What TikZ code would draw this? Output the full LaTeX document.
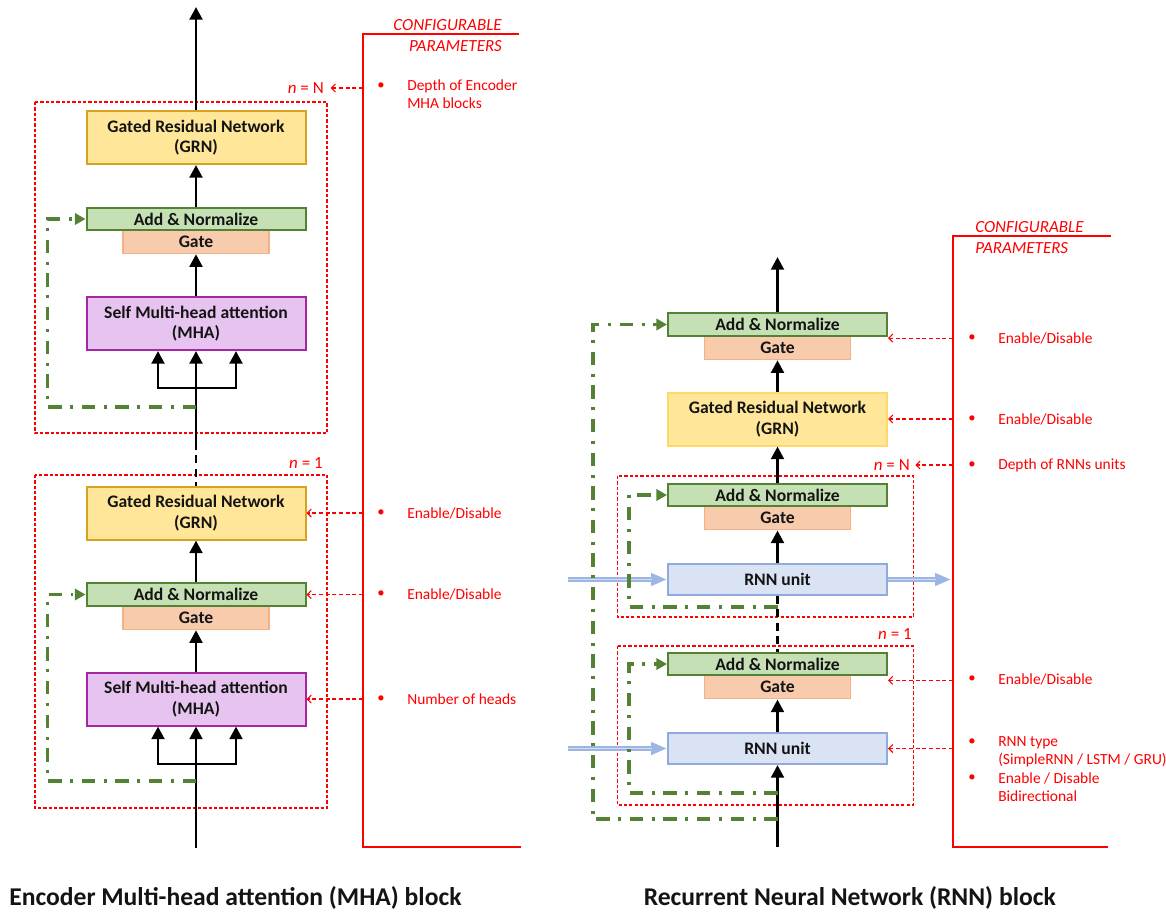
\documentclass[tikz,border=0pt]{standalone}
\usepackage{fontspec}
\setmainfont{Carlito}
\usetikzlibrary{arrows.meta,calc}

\definecolor{grnfill}{HTML}{FFE699}
\definecolor{grnedge}{HTML}{D9A21E}
\definecolor{grnedgeB}{HTML}{FFD966}
\definecolor{addfill}{HTML}{C5E0B4}
\definecolor{addedge}{HTML}{548235}
\definecolor{gatefill}{HTML}{F8CBAD}
\definecolor{gateedge}{HTML}{F4B183}
\definecolor{mhafill}{HTML}{E6C4EF}
\definecolor{mhaedge}{HTML}{A626A4}
\definecolor{rnnfill}{HTML}{DAE3F3}
\definecolor{rnnedge}{HTML}{8FAADC}
\definecolor{skipgreen}{HTML}{548235}
\definecolor{cfgred}{HTML}{FF0000}
\definecolor{flowblue}{HTML}{9DB5E4}
\definecolor{ink}{HTML}{141414}

\tikzset{
  box/.style={rectangle, inner sep=0pt, line width=1.5pt, align=center,
    font=\bfseries\fontsize{13.2}{15.5}\selectfont, text=ink},
  grnbox/.style={box, fill=grnfill, draw=grnedge, minimum width=164.25pt, minimum height=39.75pt},
  addbox/.style={box, fill=addfill, draw=addedge, minimum width=164.25pt, minimum height=16.9pt},
  gatebox/.style={box, fill=gatefill, draw=gateedge, line width=1.1pt, minimum width=109.5pt, minimum height=17.6pt},
  mhabox/.style={box, fill=mhafill, draw=mhaedge, minimum width=164.25pt, minimum height=39.75pt},
  rnnbox/.style={box, fill=rnnfill, draw=rnnedge, minimum width=164.25pt, minimum height=23.25pt},
  flow/.style={line width=2.2pt, -{Triangle[width=9.5pt,length=9.5pt]}},
  gapline/.style={line width=2.2pt, dash pattern=on 6pt off 4pt},
  skipline/.style={draw=skipgreen, line width=2.5pt, dash pattern=on 10pt off 6.5pt on 2.2pt off 6.5pt,
    -{Triangle[width=8.5pt,length=8pt]}},
  repeatbox/.style={draw=cfgred, line width=0.8pt, dash pattern=on 2.4pt off 1.6pt},
  cfgarrow/.style={draw=cfgred, line width=0.8pt, dash pattern=on 3pt off 2pt,
    -{Straight Barb[length=3pt,width=6pt]}},
  bracketline/.style={draw=cfgred, line width=1.1pt},
  cfgtext/.style={text=cfgred, font=\fontsize{11.6}{13.5}\selectfont, align=left, anchor=west, inner sep=0pt},
  dotmark/.style={text=cfgred, font=\fontsize{11}{13}\selectfont, inner sep=0pt},
  cfghead/.style={text=cfgred, font=\itshape\fontsize{12.75}{15}\selectfont, inner sep=0pt},
  depthlabel/.style={text=cfgred, font=\fontsize{12.75}{15}\selectfont, inner sep=0pt, anchor=east},
  titletext/.style={font=\bfseries\fontsize{19.2}{22}\selectfont, anchor=west, inner sep=0pt, text=ink},
  rnnflow/.style={draw=flowblue, line width=4pt, -{Triangle[width=9pt,length=12pt]},
    postaction={draw=white!55!flowblue, line width=1.3pt, -, shorten >=11pt}}
}

\begin{document}
\begin{tikzpicture}[x=0.75pt, y=-0.75pt]
\useasboundingbox (0,0) rectangle (1166,911);

% ---------------- Encoder MHA block ----------------
% repeated-block frames
\draw[repeatbox] (35,102) rectangle (327,433);
\draw[repeatbox] (35,475) rectangle (327,808);

% upper block (n = N)
\node[grnbox] (grnA) at (196,137.5) {Gated Residual Network\\(GRN)};
\node[gatebox] (gateA) at (196,241.75) {Gate};
\node[addbox] (addA) at (196,219) {Add \& Normalize};
\node[mhabox] (mhaA) at (196,323.5) {Self Multi-head attention\\(MHA)};

% lower block (n = 1)
\node[grnbox] (grnB) at (196,513) {Gated Residual Network\\(GRN)};
\node[gatebox] (gateB) at (196,617.75) {Gate};
\node[addbox] (addB) at (196,594.5) {Add \& Normalize};
\node[mhabox] (mhaB) at (196,699) {Self Multi-head attention\\(MHA)};

\coordinate (outA) at (196,7);
\coordinate (joinA) at (196,442);
\coordinate (forkA) at (196,388);
\coordinate (skipA) at (196,407);
\coordinate (inA) at (196,848);
\coordinate (forkB) at (196,764);
\coordinate (skipB) at (196,781);

% main data path
\draw[flow] (grnA.north) -- (outA);
\draw[flow] (addA.north) -- (grnA.south);
\draw[flow] (mhaA.north) -- (gateA.south);
\draw[flow] (joinA) -- (mhaA.south);
\draw[flow] (forkA) -| ($(mhaA.south)+(-38,0)$);
\draw[flow] (forkA) -| ($(mhaA.south)+(40,0)$);
\draw[gapline] (joinA) -- (grnB.north);
\draw[flow] (addB.north) -- (grnB.south);
\draw[flow] (mhaB.north) -- (gateB.south);
\draw[flow] (inA) -- (mhaB.south);
\draw[flow] (forkB) -| ($(mhaB.south)+(-38,0)$);
\draw[flow] (forkB) -| ($(mhaB.south)+(40,0)$);

% residual connections
\draw[skipline] (skipA) -| ($(addA.west)+(-38,0)$) -- (addA.west);
\draw[skipline] (skipB) -| ($(addB.west)+(-38,0)$) -- (addB.west);

% configurable parameters
\node[depthlabel] (nNA) at (324,88) {\textit{n} = N};
\node[depthlabel] (n1A) at (323,463) {\textit{n} = 1};
\coordinate (brAtop) at (363,34);
\coordinate (brAend) at (519,34);
\coordinate (brAbot) at (363,847);
\coordinate (brAbotend) at (521,847);
\draw[bracketline] (brAend) -- (brAtop) -- (brAbot) -- (brAbotend);
\node[cfghead, anchor=east] (cfgA1) at (502,25.5) {CONFIGURABLE};
\node[cfghead, anchor=east] (cfgA2) at (502,46) {PARAMETERS};

\coordinate (nNAtip) at ([xshift=5pt]nNA.east);
\draw[cfgarrow] (brAtop |- nNAtip) -- (nNAtip);
\draw[cfgarrow] (brAtop |- grnB.east) -- (grnB.east);
\draw[cfgarrow] (brAtop |- addB.east) -- (addB.east);
\draw[cfgarrow] (brAtop |- mhaB.east) -- (mhaB.east);

\node[dotmark] (dA1) at (381,86) {\textbullet};
\node[cfgtext] (pA1) at (407,94.5) {Depth of Encoder\\MHA blocks};
\node[dotmark] (dA2) at (381,513) {\textbullet};
\node[cfgtext] (pA2) at (407,513) {Enable/Disable};
\node[dotmark] (dA3) at (381,594.5) {\textbullet};
\node[cfgtext] (pA3) at (407,594.5) {Enable/Disable};
\node[dotmark] (dA4) at (381,699) {\textbullet};
\node[cfgtext] (pA4) at (407,699) {Number of heads};

\node[titletext] (titleA) at (9,898) {Encoder Multi-head attention (MHA) block};

% ---------------- RNN block ----------------
\draw[repeatbox] (617.5,476) rectangle (913.5,617);
\draw[repeatbox] (617.5,646) rectangle (913.5,805);

\node[gatebox] (gateT) at (777.5,347.75) {Gate};
\node[addbox] (addT) at (777.5,324.5) {Add \& Normalize};
\node[grnbox, draw=grnedgeB] (grnR) at (777.5,419) {Gated Residual Network\\(GRN)};
\node[gatebox] (gateN) at (777.5,518) {Gate};
\node[addbox] (addN) at (777.5,495) {Add \& Normalize};
\node[rnnbox] (rnnN) at (777.5,579.5) {RNN unit};
\node[gatebox] (gate1) at (777.5,687) {Gate};
\node[addbox] (add1) at (777.5,664) {Add \& Normalize};
\node[rnnbox] (rnn1) at (777.5,748.5) {RNN unit};

\coordinate (outB) at (777.5,257);
\coordinate (inB) at (777.5,847);
\coordinate (skipN) at (777.5,607);
\coordinate (skip1) at (777.5,793);
\coordinate (skipO) at (777.5,819);
\coordinate (seqInN) at (568,579.5);
\coordinate (seqOutN) at (951,579.5);
\coordinate (seqIn1) at (568,748.5);

% recurrent sequence flow
\draw[rnnflow] (seqInN) -- (rnnN.west);
\draw[rnnflow] (rnnN.east) -- (seqOutN);
\draw[rnnflow] (seqIn1) -- (rnn1.west);

% main data path
\draw[flow] (addT.north) -- (outB);
\draw[flow] (grnR.north) -- (gateT.south);
\draw[flow] (addN.north) -- (grnR.south);
\draw[flow] (rnnN.north) -- (gateN.south);
\draw[gapline] (rnnN.south) -- (add1.north);
\draw[flow] (rnn1.north) -- (gate1.south);
\draw[flow] (inB) -- (rnn1.south);

% residual connections
\draw[skipline] (skipN) -| ($(addN.west)+(-38,0)$) -- (addN.west);
\draw[skipline] (skip1) -| ($(add1.west)+(-38,0)$) -- (add1.west);
\draw[skipline] (skipO) -| ($(addT.west)+(-74,0)$) -- (addT.west);

% configurable parameters
\node[depthlabel] (nNB) at (910,465) {\textit{n} = N};
\node[depthlabel] (n1B) at (912,634) {\textit{n} = 1};
\coordinate (brBtop) at (953,236);
\coordinate (brBend) at (1111,236);
\coordinate (brBbot) at (953,847);
\coordinate (brBbotend) at (1108,847);
\draw[bracketline] (brBend) -- (brBtop) -- (brBbot) -- (brBbotend);
\node[cfghead, anchor=west] (cfgB1) at (975,227) {CONFIGURABLE};
\node[cfghead, anchor=west] (cfgB2) at (975,248) {PARAMETERS};

\coordinate (addTtip) at ([yshift=-1pt]addT.south east);
\coordinate (nNBtip) at ([xshift=4pt]nNB.east);
\coordinate (add1tip) at ([yshift=-3pt]add1.south east);
\draw[cfgarrow] (brBtop |- addTtip) -- (addTtip);
\draw[cfgarrow] (brBtop |- grnR.east) -- (grnR.east);
\draw[cfgarrow] (brBtop |- nNBtip) -- (nNBtip);
\draw[cfgarrow] (brBtop |- add1tip) -- (add1tip);
\draw[cfgarrow] (brBtop |- rnn1.east) -- (rnn1.east);

\node[dotmark] (dB1) at (972,338) {\textbullet};
\node[cfgtext] (pB1) at (998,338) {Enable/Disable};
\node[dotmark] (dB2) at (972,419) {\textbullet};
\node[cfgtext] (pB2) at (998,419) {Enable/Disable};
\node[dotmark] (dB3) at (972,465) {\textbullet};
\node[cfgtext] (pB3) at (998,465) {Depth of RNNs units};
\node[dotmark] (dB4) at (972,679) {\textbullet};
\node[cfgtext] (pB4) at (998,679) {Enable/Disable};
\node[dotmark] (dB5) at (972,742) {\textbullet};
\node[cfgtext] (pB5) at (998,752) {RNN type\\(SimpleRNN / LSTM / GRU)};
\node[dotmark] (dB6) at (972,778) {\textbullet};
\node[cfgtext] (pB6) at (998,787.5) {Enable / Disable\\Bidirectional};

\node[titletext] (titleB) at (643.5,898) {Recurrent Neural Network (RNN) block};
\end{tikzpicture}
\end{document}
